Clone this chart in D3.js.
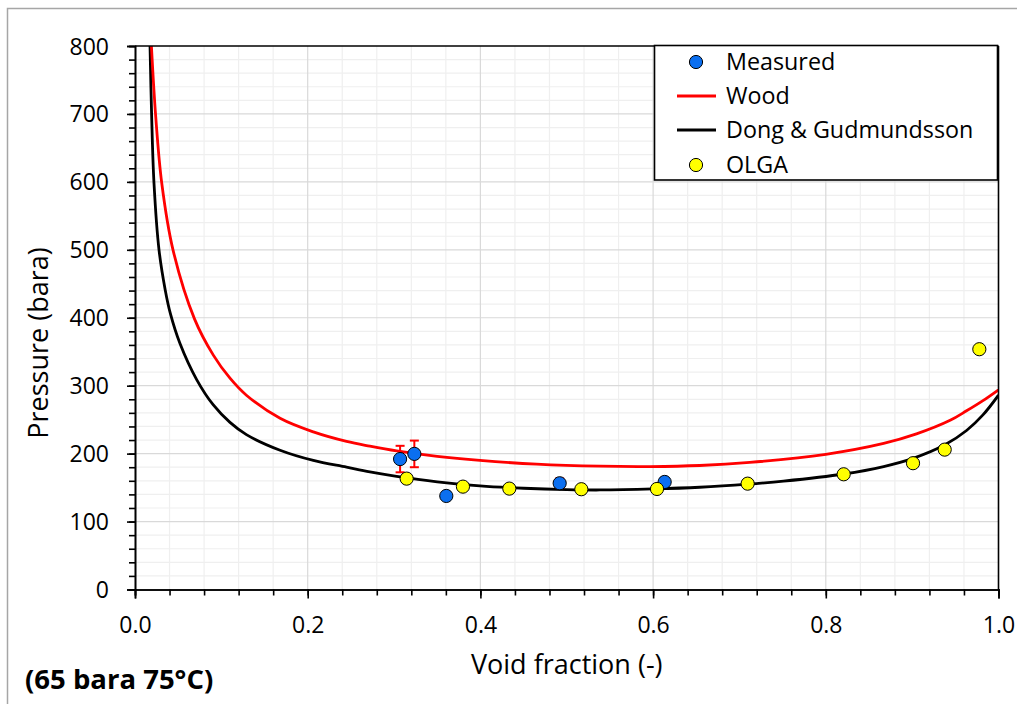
<!DOCTYPE html>
<html><head><meta charset="utf-8">
<script src="https://cdn.jsdelivr.net/npm/d3@7"></script>
<style>
html,body{margin:0;padding:0;background:#fff;}
svg{display:block;font-family:"Open Sans",sans-serif;}
</style></head>
<body>
<svg id="chart" width="1017" height="704"></svg>
<script>
// ---- data ----
const measuredX   = [0.307, 0.3235, 0.3605, 0.4918, 0.6134];
const measuredY   = [192, 199.6, 137.7, 156.4, 158.3];
const measuredErr = [19.5, 19.6, 4, 7, 4];

const olgaX = [0.3146, 0.3798, 0.4335, 0.5169, 0.6045, 0.7095, 0.8207, 0.901, 0.9377, 0.9778];
const olgaY = [163.2, 151.4, 148.5, 147.6, 148, 155.8, 169.6, 185.9, 205.9, 353.7];

const woodX = [0.019, 0.024, 0.031, 0.044, 0.069, 0.0907, 0.110, 0.129, 0.168, 0.2065, 0.245, 0.272, 0.303, 0.35, 0.3995, 0.465, 0.5385, 0.5964, 0.654, 0.712, 0.800, 0.867, 0.905, 0.944, 0.963, 0.982, 1.0];
const woodY = [800, 696, 598, 500, 398, 345, 311, 286, 252, 232, 218, 211, 204, 196, 190, 184.5, 181.5, 181, 182.5, 187, 199, 215, 229, 249, 263, 278, 294];

const dongX = [0.0174, 0.0193, 0.022, 0.0278, 0.035, 0.041, 0.0521, 0.0714, 0.0907, 0.110, 0.129, 0.168, 0.2065, 0.245, 0.272, 0.303, 0.35, 0.3995, 0.45, 0.5, 0.5385, 0.6, 0.654, 0.7095, 0.751, 0.8207, 0.867, 0.901, 0.938, 0.963, 0.982, 1.0];
const dongY = [800, 696, 598, 500, 441, 406, 362, 309, 271.6, 246, 228, 205, 190, 180, 173, 166.5, 158.5, 152.5, 149, 147, 146.5, 148, 150.5, 155, 159.5, 170, 181, 193, 213, 234, 257, 286];

const xTicks = [0, 0.2, 0.4, 0.6, 0.8, 1.0];
const yTicks = [0, 100, 200, 300, 400, 500, 600, 700, 800];
const legendLabels = ["Measured", "Wood", "Dong & Gudmundsson", "OLGA"];

// ---- layout ----
const svg = d3.select("#chart");
const X0 = 135, X1 = 998.5, Y0 = 589.5, Y1 = 46;
const x = d3.scaleLinear().domain([0, 1]).range([X0, X1]);
const y = d3.scaleLinear().domain([0, 800]).range([Y0, Y1]);

// outer chart border
svg.append("rect").attr("x", 7.5).attr("y", 8.5).attr("width", 1030).attr("height", 720)
  .attr("fill", "#fff").attr("stroke", "#a6a6a6").attr("stroke-width", 1.5);

// grid
const g = svg.append("g");
const minorX = d3.range(0, 1.0001, 0.04).filter(v => Math.abs(v*5 - Math.round(v*5)) > 1e-6);
const minorY = d3.range(0, 800.001, 20).filter(v => v % 100 !== 0);
g.selectAll(".mgx").data(minorX).join("line")
  .attr("x1", d => x(d)).attr("x2", d => x(d)).attr("y1", Y0).attr("y2", Y1)
  .attr("stroke", "#efefef").attr("stroke-width", 1.2);
g.selectAll(".mgy").data(minorY).join("line")
  .attr("y1", d => y(d)).attr("y2", d => y(d)).attr("x1", X0).attr("x2", X1)
  .attr("stroke", "#efefef").attr("stroke-width", 1.2);
g.selectAll(".gx").data(xTicks.slice(1, -1)).join("line")
  .attr("x1", d => x(d)).attr("x2", d => x(d)).attr("y1", Y0).attr("y2", Y1)
  .attr("stroke", "#d9d9d9").attr("stroke-width", 1.2);
g.selectAll(".gy").data(yTicks.slice(1, -1)).join("line")
  .attr("y1", d => y(d)).attr("y2", d => y(d)).attr("x1", X0).attr("x2", X1)
  .attr("stroke", "#d9d9d9").attr("stroke-width", 1.2);

// clip
svg.append("clipPath").attr("id", "clip").append("rect")
  .attr("x", X0).attr("y", Y1).attr("width", X1 - X0).attr("height", Y0 - Y1);

// curves
const line = d3.line().x(d => x(d[0])).y(d => y(d[1])).curve(d3.curveCatmullRom.alpha(0.5));
const curves = svg.append("g").attr("clip-path", "url(#clip)");
curves.append("path").datum(dongX.map((v, i) => [v, dongY[i]]))
  .attr("d", line).attr("fill", "none").attr("stroke", "#000").attr("stroke-width", 2.8);
curves.append("path").datum(woodX.map((v, i) => [v, woodY[i]]))
  .attr("d", line).attr("fill", "none").attr("stroke", "#ff0000").attr("stroke-width", 2.8);

// frame (top/right)
svg.append("line").attr("x1", X0).attr("x2", X1).attr("y1", Y1).attr("y2", Y1).attr("stroke", "#000").attr("stroke-width", 1.6);
svg.append("line").attr("x1", X1).attr("x2", X1).attr("y1", Y1).attr("y2", Y0).attr("stroke", "#000").attr("stroke-width", 1.6);

// axes
const xMinorTicks = d3.range(0, 1.0001, 0.04);
const yMinorTicks = d3.range(0, 800.001, 20);
const xAxisMinor = d3.axisBottom(x).tickValues(xMinorTicks).tickSize(6).tickFormat("");
const xAxis = d3.axisBottom(x).tickValues(xTicks).tickSize(9).tickFormat(d3.format(".1f")).tickPadding(6);
const yAxisMinor = d3.axisLeft(y).tickValues(yMinorTicks).tickSize(6).tickFormat("");
const yAxis = d3.axisLeft(y).tickValues(yTicks).tickSize(8).tickFormat(d3.format("d")).tickPadding(18);

function styleAxis(sel) {
  sel.select(".domain").attr("stroke", "#000").attr("stroke-width", 1.6);
  sel.selectAll(".tick line").attr("stroke", "#000").attr("stroke-width", 1.6);
  sel.selectAll("text").attr("font-size", 23).attr("fill", "#000").attr("font-family", "Open Sans");
}
svg.append("g").attr("transform", `translate(0,${Y0})`).call(xAxisMinor).call(styleAxis);
const xa = svg.append("g").attr("transform", `translate(0,${Y0})`).call(xAxis).call(styleAxis);
xa.selectAll(".tick text").attr("dy", null).attr("y", 43);
svg.append("g").attr("transform", `translate(${X0},0)`).call(yAxisMinor).call(styleAxis);
const ya = svg.append("g").attr("transform", `translate(${X0},0)`).call(yAxis).call(styleAxis);
ya.selectAll(".tick text").attr("dy", null).attr("y", 8).attr("x", -26);

// error bars
const eb = svg.append("g");
measuredX.forEach((v, i) => {
  const cx = x(v), yt = y(measuredY[i] + measuredErr[i]), yb = y(measuredY[i] - measuredErr[i]);
  eb.append("line").attr("x1", cx).attr("x2", cx).attr("y1", yt).attr("y2", yb).attr("stroke", "#ff0000").attr("stroke-width", 2);
  [yt, yb].forEach(yy => eb.append("line").attr("x1", cx - 4.5).attr("x2", cx + 4.5).attr("y1", yy).attr("y2", yy).attr("stroke", "#ff0000").attr("stroke-width", 2));
});

// markers
const BLUE = "#0b6ff0", YELLOW = "#ffff00", R = 6.6;
svg.append("g").selectAll("circle").data(measuredX.map((v, i) => [v, measuredY[i]])).join("circle")
  .attr("cx", d => x(d[0])).attr("cy", d => y(d[1])).attr("r", R)
  .attr("fill", BLUE).attr("stroke", "#000").attr("stroke-width", 1);
svg.append("g").selectAll("circle").data(olgaX.map((v, i) => [v, olgaY[i]])).join("circle")
  .attr("cx", d => x(d[0])).attr("cy", d => y(d[1])).attr("r", R)
  .attr("fill", YELLOW).attr("stroke", "#000").attr("stroke-width", 1);

// legend
const lg = svg.append("g");
lg.append("rect").attr("x", 654.5).attr("y", 45.5).attr("width", 343).attr("height", 134.5)
  .attr("fill", "#fff").attr("stroke", "#000").attr("stroke-width", 1.6);
const rows = [62, 96, 130, 165];
lg.append("circle").attr("cx", 696).attr("cy", rows[0]).attr("r", R).attr("fill", BLUE).attr("stroke", "#000");
lg.append("line").attr("x1", 677).attr("x2", 716).attr("y1", rows[1]).attr("y2", rows[1]).attr("stroke", "#ff0000").attr("stroke-width", 2.8);
lg.append("line").attr("x1", 677).attr("x2", 716).attr("y1", rows[2]).attr("y2", rows[2]).attr("stroke", "#000").attr("stroke-width", 2.8);
lg.append("circle").attr("cx", 696).attr("cy", rows[3]).attr("r", R).attr("fill", YELLOW).attr("stroke", "#000");
legendLabels.forEach((t, i) => {
  lg.append("text").attr("x", 726).attr("y", rows[i] + 8).attr("font-size", 23.3).attr("fill", "#000").text(t);
});

// axis titles
svg.append("text").attr("x", (X0 + X1) / 2).attr("y", 674).attr("text-anchor", "middle")
  .attr("font-size", 27).attr("fill", "#000").text("Void fraction (-)");
svg.append("text").attr("transform", "translate(48,343) rotate(-90)").attr("text-anchor", "middle")
  .attr("font-size", 27).attr("fill", "#000").text("Pressure (bara)");
svg.append("text").attr("x", 25).attr("y", 689).attr("font-size", 27.5).attr("font-weight", "bold")
  .attr("fill", "#000").text("(65 bara 75°C)");
</script>
</body></html>
